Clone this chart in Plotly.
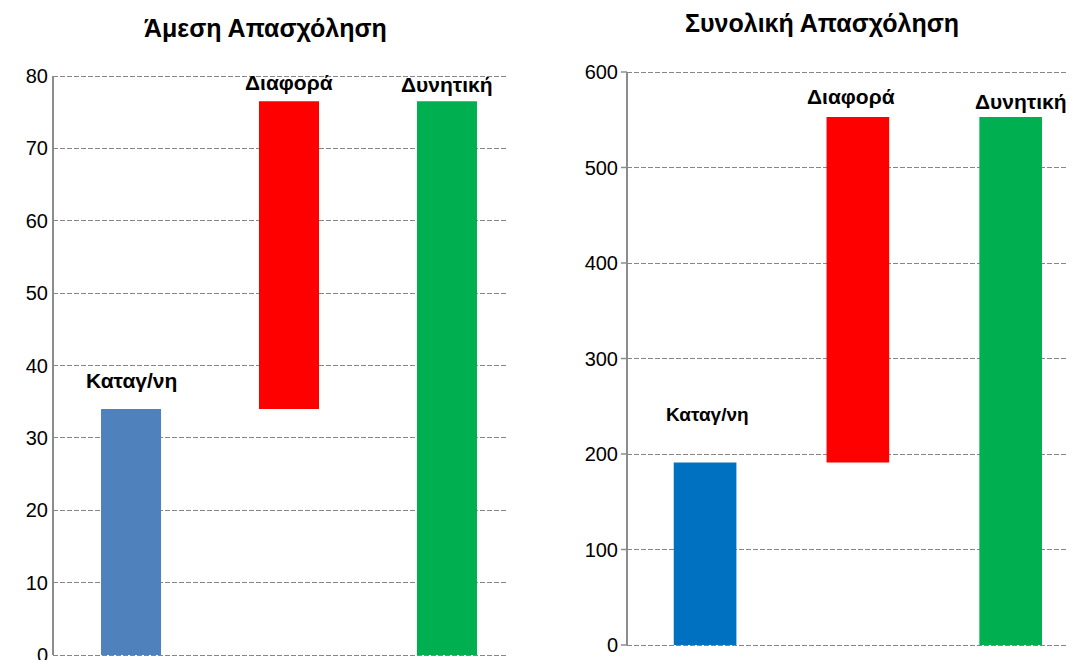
import plotly.graph_objects as go

# ---- data ----
categories = ["Καταγ/νη", "Διαφορά", "Δυνητική"]
titles = ["Άμεση Απασχόληση", "Συνολική Απασχόληση"]
direct_current = 34
direct_potential = 76.5
total_current = 191
total_potential = 553
direct_ticks = [0, 10, 20, 30, 40, 50, 60, 70, 80]
total_ticks = [0, 100, 200, 300, 400, 500, 600]

W, H = 1076, 660
OFF = 8  # page body margin offset
FONT = "Liberation Sans, Arial, sans-serif"
GRID = "#868686"
RED = "#FF0000"
GREEN = "#00B050"

fig = go.Figure()

def add_panel(cur, pot, blue, xa, ya, width):
    xs = [0, 1, 2]
    fig.add_trace(go.Bar(x=[xs[0]], y=[cur], base=[0], marker_color=blue, width=width,
                         xaxis=xa, yaxis=ya, showlegend=False, hoverinfo="skip"))
    fig.add_trace(go.Bar(x=[xs[1]], y=[pot - cur], base=[cur], marker_color=RED, width=width,
                         xaxis=xa, yaxis=ya, showlegend=False, hoverinfo="skip"))
    fig.add_trace(go.Bar(x=[xs[2]], y=[pot], base=[0], marker_color=GREEN, width=width,
                         xaxis=xa, yaxis=ya, showlegend=False, hoverinfo="skip"))

add_panel(direct_current, direct_potential, "#4F81BD", "x", "y", 0.38)
add_panel(total_current, total_potential, "#0070C0", "x2", "y2", 0.41)

def py(pix):
    return (H - (pix - OFF)) / H

def px(pix):
    return (pix - OFF) / W

# pixel geometry of the two value axes (0 and top value positions)
L_TOP, L_BOT = 76, 655
R_TOP, R_BOT = 72, 645
PAD = 3  # extra pixels so the edge gridlines are drawn
l_ppu = (L_BOT - L_TOP) / direct_ticks[-1]
r_ppu = (R_BOT - R_TOP) / total_ticks[-1]

common_y = dict(showgrid=True, gridcolor=GRID, griddash="5px,2px", gridwidth=1.2,
                zeroline=False, showline=False,
                automargin=False,
                tickfont=dict(family=FONT, size=20, color="#000"))
common_x = dict(showgrid=False, zeroline=False, showline=False, showticklabels=False,
                fixedrange=True, automargin=False)

fig.update_layout(
    template="none",
    width=W, height=H,
    margin=dict(l=0, r=0, t=0, b=0, pad=0, autoexpand=False),
    plot_bgcolor="white", paper_bgcolor="white",
    barmode="overlay",
    xaxis=dict(domain=[px(53), px(507)], range=[-0.494, 2.38], **common_x),
    yaxis=dict(domain=[py(L_BOT + PAD), py(L_TOP - PAD)],
               range=[-PAD / l_ppu, direct_ticks[-1] + PAD / l_ppu],
               tickvals=direct_ticks, ticks="", ticklabelstandoff=4, **common_y),
    xaxis2=dict(domain=[px(627), 1.0], range=[-0.511, 2.48], anchor="y2", **common_x),
    yaxis2=dict(domain=[py(R_BOT + PAD), py(R_TOP - PAD)],
                range=[-PAD / r_ppu, total_ticks[-1] + PAD / r_ppu],
                tickvals=total_ticks, anchor="x2", ticks="", ticklabelstandoff=8,
                **common_y),
)

# solid value-axis lines drawn between 0 and top value
shapes = [
    dict(type="line", xref="x domain", yref="y", x0=0, x1=0, y0=0, y1=direct_ticks[-1],
         line=dict(color="#8c8c8c", width=2)),
    dict(type="line", xref="x2 domain", yref="y2", x0=0, x1=0, y0=0, y1=total_ticks[-1],
         line=dict(color="#8c8c8c", width=2)),
]
# small outside tick marks on the right panel
for t in total_ticks:
    shapes.append(dict(type="line", xref="x2 domain", yref="y2", x0=-6 / 449, x1=0,
                       y0=t, y1=t, line=dict(color="#8c8c8c", width=1.5)))
fig.update_layout(shapes=shapes)

ann = []
# titles
ann.append(dict(text=f"<b>{titles[0]}</b>", x=px(265), y=py(28), xref="paper", yref="paper",
                xanchor="center", yanchor="middle",
                showarrow=False, font=dict(family=FONT, size=25, color="#000")))
ann.append(dict(text=f"<b>{titles[1]}</b>", x=px(822), y=py(23), xref="paper", yref="paper",
                xanchor="center", yanchor="middle",
                showarrow=False, font=dict(family=FONT, size=25, color="#000")))

# bar labels, left panel
left_vals = [direct_current, direct_potential, direct_potential]
left_shift = [28, 19, 17]
for i, c in enumerate(categories):
    ann.append(dict(text=f"<b>{c}</b>", x=i, y=left_vals[i], xref="x", yref="y",
                    xanchor="center", yanchor="middle",
                    yshift=left_shift[i], showarrow=False,
                    font=dict(family=FONT, size=21, color="#000")))
right_vals = [total_current, total_potential, total_potential]
right_shift = [48, 20, 15]
right_dx = [2, -7, 10]
right_size = [19, 21, 21]
for i, c in enumerate(categories):
    ann.append(dict(text=f"<b>{c}</b>", x=i, y=right_vals[i], xref="x2", yref="y2",
                    xanchor="center", yanchor="middle",
                    yshift=right_shift[i], xshift=right_dx[i], showarrow=False,
                    font=dict(family=FONT, size=right_size[i], color="#000")))

fig.update_layout(annotations=ann)
fig.write_html("out.html")
